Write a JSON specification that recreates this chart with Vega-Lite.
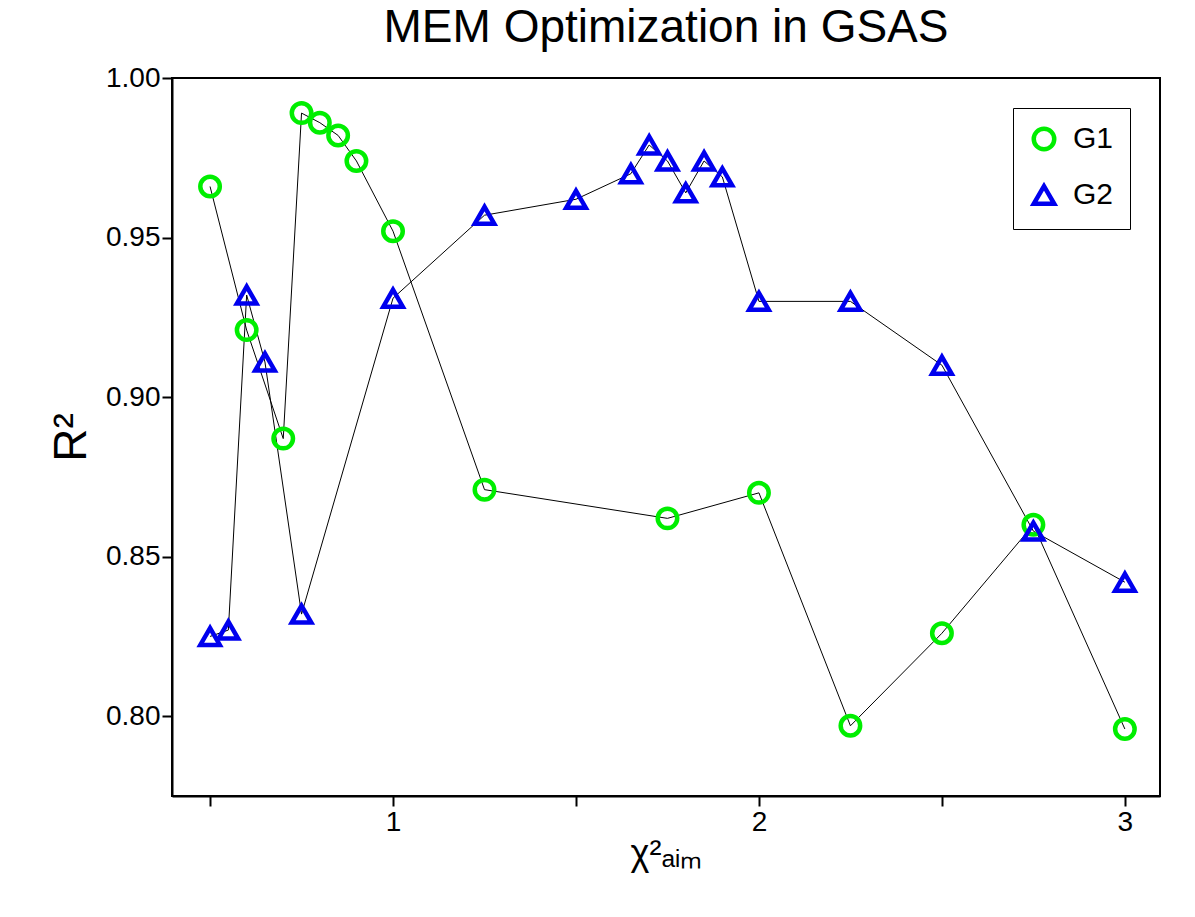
{
  "$schema": "https://vega.github.io/schema/vega-lite/v6.json",
  "autosize": {"type": "none"},
  "width": 988,
  "height": 718,
  "padding": {"left": 172, "top": 78, "right": 35, "bottom": 121},
  "background": "white",
  "title": {"text": "MEM Optimization in GSAS", "fontSize": 46, "font": "Liberation Sans", "fontWeight": "normal", "offset": 12},
  "config": {
    "view": {"stroke": "black", "strokeWidth": 2},
    "font": "Liberation Sans"
  },
  "data": {"values": [
    {"s": "G1", "x": 0.5, "y": 0.966},
    {"s": "G1", "x": 0.6, "y": 0.921},
    {"s": "G1", "x": 0.7, "y": 0.887},
    {"s": "G1", "x": 0.75, "y": 0.989},
    {"s": "G1", "x": 0.8, "y": 0.986},
    {"s": "G1", "x": 0.85, "y": 0.982},
    {"s": "G1", "x": 0.9, "y": 0.974},
    {"s": "G1", "x": 1.0, "y": 0.952},
    {"s": "G1", "x": 1.25, "y": 0.871},
    {"s": "G1", "x": 1.75, "y": 0.862},
    {"s": "G1", "x": 2.0, "y": 0.870},
    {"s": "G1", "x": 2.25, "y": 0.797},
    {"s": "G1", "x": 2.5, "y": 0.826},
    {"s": "G1", "x": 2.75, "y": 0.860},
    {"s": "G1", "x": 3.0, "y": 0.796},
    {"s": "G2", "x": 0.5, "y": 0.825},
    {"s": "G2", "x": 0.55, "y": 0.827},
    {"s": "G2", "x": 0.6, "y": 0.932},
    {"s": "G2", "x": 0.65, "y": 0.911},
    {"s": "G2", "x": 0.75, "y": 0.832},
    {"s": "G2", "x": 1.0, "y": 0.931},
    {"s": "G2", "x": 1.25, "y": 0.957},
    {"s": "G2", "x": 1.5, "y": 0.962},
    {"s": "G2", "x": 1.65, "y": 0.970},
    {"s": "G2", "x": 1.7, "y": 0.979},
    {"s": "G2", "x": 1.75, "y": 0.974},
    {"s": "G2", "x": 1.8, "y": 0.964},
    {"s": "G2", "x": 1.85, "y": 0.974},
    {"s": "G2", "x": 1.9, "y": 0.969},
    {"s": "G2", "x": 2.0, "y": 0.930},
    {"s": "G2", "x": 2.25, "y": 0.930},
    {"s": "G2", "x": 2.5, "y": 0.910},
    {"s": "G2", "x": 2.75, "y": 0.858},
    {"s": "G2", "x": 3.0, "y": 0.842}
  ]},
  "encoding": {
    "x": {"field": "x", "type": "quantitative",
      "scale": {"domain": [0.396, 3.096], "nice": false, "zero": false},
      "axis": {"title": "χ²ₐᵢₘ", "titleFontSize": 36, "titleFontWeight": "normal", "titlePadding": 0,
        "values": [0.5, 1, 1.5, 2, 2.5, 3], "labelExpr": "datum.value % 1 == 0 ? format(datum.value, 'd') : ''",
        "labelFontSize": 28, "grid": false, "domainColor": "black", "domainWidth": 2,
        "tickColor": "black", "tickWidth": 2, "tickSize": 10, "labelColor": "black", "titleColor": "black"}},
    "y": {"field": "y", "type": "quantitative",
      "scale": {"domain": [0.775, 1.0], "nice": false, "zero": false},
      "axis": {"title": "R²", "titleFontSize": 46, "titleFontWeight": "normal", "titlePadding": 10,
        "values": [0.8, 0.85, 0.9, 0.95, 1.0], "format": ".2f",
        "labelFontSize": 28, "grid": false, "domainColor": "black", "domainWidth": 2,
        "tickColor": "black", "tickWidth": 2, "tickSize": 10, "labelColor": "black", "titleColor": "black"}}
  },
  "layer": [
    {"mark": {"type": "line", "color": "black", "strokeWidth": 1},
     "encoding": {"detail": {"field": "s"}}},
    {"mark": {"type": "point", "filled": false, "size": 380, "strokeWidth": 4.5, "opacity": 1},
     "encoding": {
       "color": {"field": "s", "type": "nominal", "scale": {"domain": ["G1", "G2"], "range": ["#00ee00", "#0000ee"]},
         "legend": {"title": null, "orient": "top-right", "offset": 30, "labelFontSize": 30, "symbolSize": 420,
           "symbolStrokeWidth": 4.5, "strokeColor": "black", "padding": 16, "rowPadding": 18, "labelOffset": 14, "labelColor": "black"}},
       "shape": {"field": "s", "type": "nominal", "scale": {"domain": ["G1", "G2"], "range": ["circle", "triangle-up"]}}
     }}
  ]
}
